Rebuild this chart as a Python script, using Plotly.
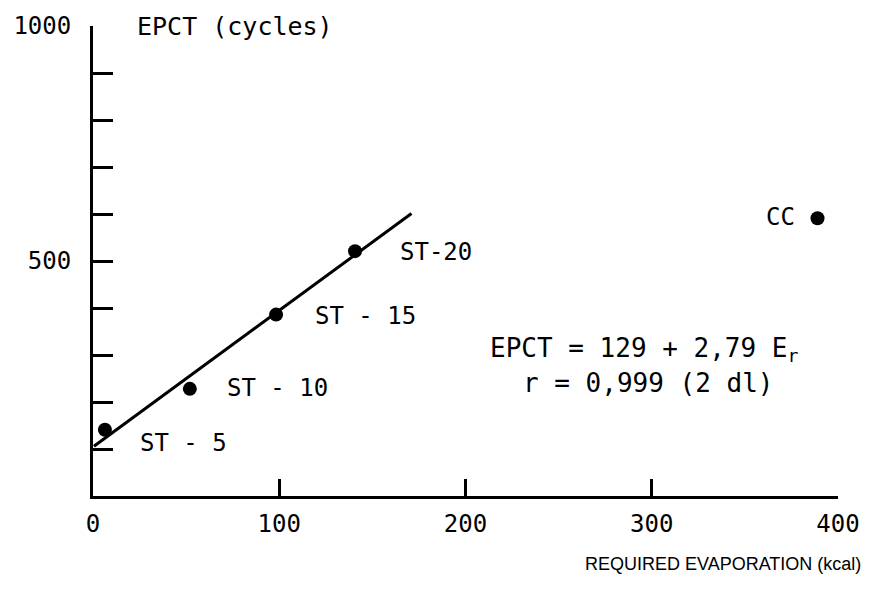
import plotly.graph_objects as go

# data
labels = ["ST - 5", "ST - 10", "ST - 15", "ST-20", "CC"]
evap = [6.4, 52, 98.3, 140.7, 389]
epct = [141, 228, 386, 521, 591]

fit_x = [0.5, 171]
fit_y = [106, 601]

x_ticks = [0, 100, 200, 300, 400]
x_ticktext = ["0", "100", "200", "300", "400"]
y_ticks = [500, 1000]
y_ticktext = ["500", "1000"]

MONO = "DejaVu Sans Mono"
fig = go.Figure()
fig.add_trace(go.Scatter(x=fit_x, y=fit_y, mode="lines",
                         line=dict(color="black", width=3), showlegend=False, hoverinfo="skip"))
fig.add_trace(go.Scatter(x=evap, y=epct, mode="markers",
                         marker=dict(color="black", size=14), showlegend=False))

# label offsets (data units)
offs = [(18, -29, "left"), (19, 2, "left"), (20, -4, "left"), (23, -2, "left"), (-11, 2, "right")]
for lab, x, y, (dx, dy, anc) in zip(labels, evap, epct, offs):
    fig.add_annotation(x=x + dx, y=y + dy, text=lab, showarrow=False, xanchor=anc, yanchor="middle",
                       font=dict(family=MONO, size=24, color="black"))

fig.add_annotation(x=22.5, y=1000, text="EPCT (cycles)", showarrow=False, xanchor="left", yanchor="middle",
                   font=dict(family=MONO, size=25, color="black"))
fig.add_annotation(x=212, y=312, text="EPCT = 129 + 2,79 E<sub>r</sub>", showarrow=False, xanchor="left",
                   yanchor="middle", font=dict(family=MONO, size=26, color="black"))
fig.add_annotation(x=230, y=241, text="r = 0,999 (2 dl)", showarrow=False, xanchor="left",
                   yanchor="middle", font=dict(family=MONO, size=26, color="black"))
fig.add_annotation(xref="paper", yref="paper", x=1.034, y=-0.1456, text="REQUIRED EVAPORATION (kcal)",
                   showarrow=False, xanchor="right", yanchor="middle",
                   font=dict(family="Liberation Sans", size=18, color="black"))

fig.update_xaxes(range=[0, 400], showline=True, linecolor="black", linewidth=3, showgrid=False,
                 zeroline=False, ticks="inside", ticklen=17, tickwidth=3, tickcolor="black",
                 tickvals=x_ticks, ticktext=x_ticktext, ticklabelstandoff=4,
                 tickfont=dict(family=MONO, size=24, color="black"))
fig.update_yaxes(range=[0, 1000], showline=True, linecolor="black", linewidth=3, showgrid=False,
                 zeroline=False, ticks="inside", ticklen=20, tickwidth=3, tickcolor="black",
                 tickvals=y_ticks, ticktext=y_ticktext, ticklabelstandoff=14,
                 minor=dict(ticks="inside", ticklen=20, tickwidth=3, tickcolor="black",
                            tick0=0, dtick=100, showgrid=False),
                 tickfont=dict(family=MONO, size=24, color="black"))
fig.update_layout(width=875, height=597, margin=dict(l=93, r=37, t=22, b=101),
                  plot_bgcolor="white", paper_bgcolor="white")
fig.write_html("out.html", config={"displayModeBar": False},
               post_script="document.body.style.margin='0';document.body.style.overflow='hidden';")
